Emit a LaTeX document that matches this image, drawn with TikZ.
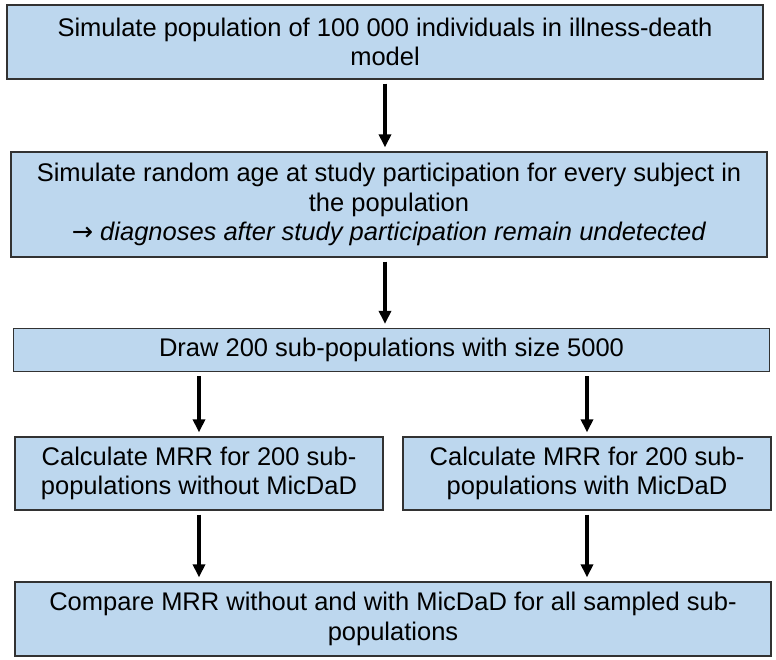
\documentclass[tikz,border=0pt]{standalone}
\usepackage{fontspec}
\setmainfont{Liberation Sans}
\newfontfamily\arrowfont{DejaVu Sans}
\definecolor{simFill}{RGB}{189, 215, 238}
\definecolor{simEdge}{RGB}{ 50,  50,  50}
\usetikzlibrary{
  arrows.meta,
  positioning,
}

\begin{document}
\begin{tikzpicture}[
  x=1pt, y=-1pt,
  >={Triangle[length=13pt, width=12pt]},
  stepbox/.style={draw=simEdge, line width=1.3pt, fill=simFill,
                  align=center, inner sep=2pt,
                  font=\fontsize{25.5}{29.5}\selectfont, text=black},
  wide/.style   ={stepbox, minimum width=756pt},
  half/.style   ={stepbox, minimum width=368pt, minimum height=73pt},
  flow/.style   ={->, line width=3.6pt, black,
                  shorten <=4pt, shorten >=4pt},
]
  \useasboundingbox (0,0) rectangle (776,659);

  % Main column of simulation steps
  \node[wide, minimum height=74pt]  (pop)    at (385, 42)    {Simulate population of 100 000 individuals in illness-death\\model};
  \node[wide, minimum height=105pt] (age)    at (389, 204.5) {Simulate random age at study participation for every subject in\\the population\\{\arrowfont →} \textit{diagnoses after study participation remain undetected}};
  \node[wide, minimum height=43pt]  (draw)   at (391.5, 350) {Draw 200 sub-populations with size 5000};

  % Two branches: without / with MicDaD
  \node[half] (without) at (199, 473.5) {Calculate MRR for 200 sub-\\populations without MicDaD};
  \node[half] (with)    at (587, 473.5) {Calculate MRR for 200 sub-\\populations with MicDaD};

  \node[wide, minimum height=74pt]  (compare) at (393, 619) {Compare MRR without and with MicDaD for all sampled sub-\\populations};

  % Connectors
  \draw[flow] (pop.south) -- (pop.south |- age.north);
  \draw[flow] (pop.south |- age.south) -- (pop.south |- draw.north);
  \draw[flow] (without.north |- draw.south) -- (without.north);
  \draw[flow] (with.north |- draw.south)    -- (with.north);
  \draw[flow] (without.south) -- (without.south |- compare.north);
  \draw[flow] (with.south)    -- (with.south |- compare.north);

\end{tikzpicture}
\end{document}
